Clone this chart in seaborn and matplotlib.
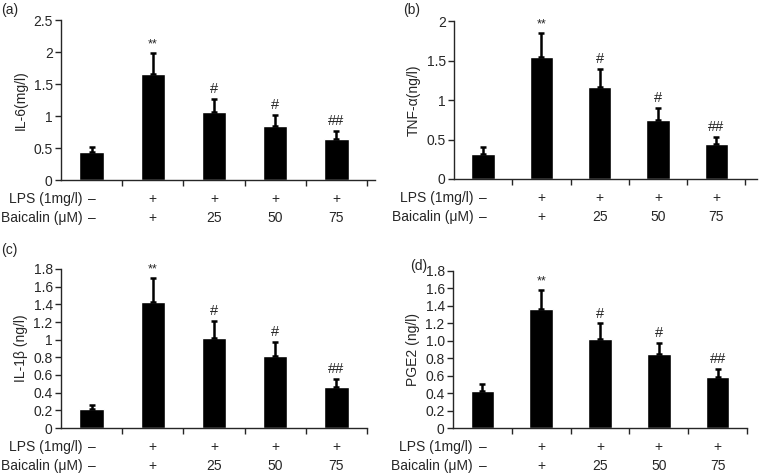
import numpy as np
import pandas as pd
import seaborn as sns
import matplotlib.pyplot as plt

# groups (x categories) and the two table rows under the bars
groups = ['ctrl', 'lps', 'b25', 'b50', 'b75']
lps_row = ['–', '+', '+', '+', '+']
baicalin_row = ['–', '+', '25', '50', '75']
marks = ['', '**', '#', '#', '##']

# means and upper error
il6_mean = [0.43, 1.66, 1.06, 0.85, 0.64]
il6_err = [0.09, 0.32, 0.21, 0.17, 0.13]
tnf_mean = [0.32, 1.55, 1.16, 0.745, 0.44]
tnf_err = [0.08, 0.30, 0.23, 0.155, 0.09]
il1b_mean = [0.21, 1.43, 1.015, 0.81, 0.46]
il1b_err = [0.05, 0.27, 0.195, 0.165, 0.095]
pge2_mean = [0.42, 1.37, 1.02, 0.85, 0.58]
pge2_err = [0.08, 0.21, 0.18, 0.13, 0.095]

sns.set_style('ticks')
plt.rcParams['font.family'] = ['Liberation Sans', 'DejaVu Sans']
plt.rcParams['font.size'] = 10

W, H = 760, 476
fig = plt.figure(figsize=(W / 100, H / 100), dpi=100)


def px_axes(left, top, right, bottom):
    # axes box given in pixel coords of the figure
    return fig.add_axes([left / W, 1 - bottom / H, (right - left) / W, (bottom - top) / H])


def panel(ax, means, errs, ylabel, ymax, ystep, ylabels, xmax, letter, lab_off):
    df = pd.DataFrame({'group': groups, 'value': means})
    sns.barplot(data=df, x='group', y='value', color='black', width=0.4,
                saturation=1, ax=ax, errorbar=None)
    xs = np.arange(len(groups))
    ax.errorbar(xs, means, yerr=[np.zeros(len(errs)), errs], fmt='none',
                ecolor='black', elinewidth=1.8, capsize=2.5, capthick=1.8)
    for x, m, e, t in zip(xs, means, errs, marks):
        if t:
            fs = 9 if t == '**' else 10.5
            ax.annotate(t, (x, m + e), xytext=(0, 2), textcoords='offset points',
                        ha='center', va='bottom', fontsize=fs)
    ax.set_ylim(0, ymax)
    ax.set_yticks(np.arange(0, ymax + 1e-9, ystep))
    ax.set_yticklabels(ylabels)
    ax.set_xlim(-0.5, xmax)
    ax.set_xticks([0.5, 1.5, 2.5, 3.5, 4.5])
    ax.set_xticklabels([])
    ax.tick_params(axis='x', direction='out', length=4, width=1)
    ax.tick_params(axis='y', direction='out', length=4, width=1, pad=2)
    ax.set_xlabel('')
    ax.set_ylabel(ylabel, labelpad=4)
    for s in ['left', 'bottom']:
        ax.spines[s].set_linewidth(1)
    sns.despine(ax=ax)
    # table rows under the axis
    for row, lab, dy in [(lps_row, 'LPS (1mg/l)', -13.5), (baicalin_row, 'Baicalin (μM)', -27.5)]:
        for x, t in zip(xs, row):
            ax.annotate(t, (x, 0), xycoords=('data', 'axes fraction'), xytext=(0, dy),
                        textcoords='offset points', ha='center', va='center')
        ax.annotate(lab, (0, 0), xycoords=('data', 'axes fraction'), xytext=(lab_off, dy),
                    textcoords='offset points', ha='right', va='center')
    ax.text(letter[1] / W, 1 - letter[2] / H, letter[0], transform=fig.transFigure,
            ha='left', va='center')


ax_a = px_axes(61, 20, 375, 180)
panel(ax_a, il6_mean, il6_err, 'IL-6(mg/l)', 2.5, 0.5,
      ['0', '0.5', '1', '1.5', '2', '2.5'], 4.63, ('(a)', 1, 10), -6.5)

ax_b = px_axes(454, 21, 757, 179)
panel(ax_b, tnf_mean, tnf_err, 'TNF-α(ng/l)', 2.0, 0.5,
      ['0', '0.5', '1', '1.5', '2'], 4.7, ('(b)', 403, 10), -7)

ax_c = px_axes(61, 269, 367, 428)
panel(ax_c, il1b_mean, il1b_err, 'IL-1β (ng/l)', 1.8, 0.2,
      ['0', '0.2', '0.4', '0.6', '0.8', '1', '1.2', '1.4', '1.6', '1.8'], 4.5, ('(c)', 1, 250), -6.5)

ax_d = px_axes(453, 271, 747, 428)
panel(ax_d, pge2_mean, pge2_err, 'PGE2 (ng/l)', 1.8, 0.2,
      ['0', '0.2', '0.4', '0.6', '0.8', '1.0', '1.2', '1.4', '1.6', '1.8'], 4.5, ('(d)', 410, 266), -7)

fig.savefig('out.png', dpi=100)
